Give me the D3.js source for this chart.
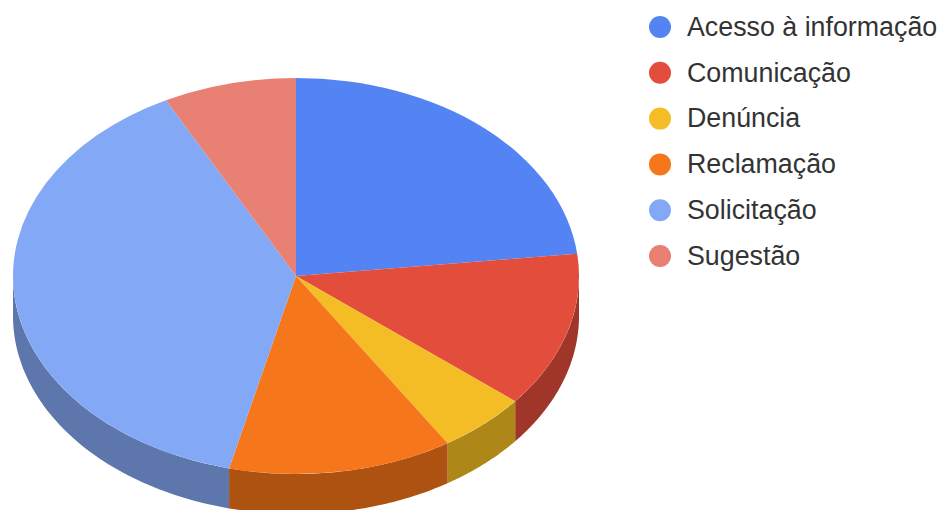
<!DOCTYPE html>
<html>
<head>
<meta charset="utf-8">
<script src="https://cdn.jsdelivr.net/npm/d3@7"></script>
<style>
  html, body { margin: 0; padding: 0; background: #fff; }
  svg { display: block; }
</style>
</head>
<body>
<div id="vis"></div>
<script>
// data
const CATEGORIES = ["Acesso à informação", "Comunicação", "Denúncia", "Reclamação", "Solicitação", "Sugestão"];
const VALUES = [23.2, 12.7, 5.1, 12.8, 38.6, 7.6];
const COLORS = ["#5484f4", "#e34d3b", "#f4bc25", "#f6761c", "#83a8f5", "#e88074"];
const SIDE_COLORS = ["#5d77ad", "#a0362a", "#ad8718", "#ad5210", "#5d77ad", "#a35a52"];

// frame and pie geometry
const FRAME_WIDTH = 950;
const FRAME_HEIGHT = 510;
const CENTER = {x: 296, y: 276};
const RADIUS_X = 283;
const RADIUS_Y = 198;
const DEPTH = 40;

const FRAME = d3.select("#vis")
    .append("svg")
        .attr("width", FRAME_WIDTH)
        .attr("height", FRAME_HEIGHT);

const PIE = d3.pie().sort(null)(VALUES);

// angle (0 at top, clockwise) to a point on the rim
const rimX = (a) => CENTER.x + RADIUS_X * Math.sin(a);
const rimY = (a) => CENTER.y - RADIUS_Y * Math.cos(a);
const LINE = d3.line();

// side walls, only the front half of the rim shows
function wallPath(d) {
    const start = Math.max(d.startAngle, Math.PI / 2);
    const end = Math.min(d.endAngle, Math.PI * 1.5);
    if (end <= start) return null;
    const steps = d3.range(0, 61).map((i) => start + (end - start) * i / 60);
    const top = steps.map((a) => [rimX(a), rimY(a)]);
    const bottom = steps.slice().reverse().map((a) => [rimX(a), rimY(a) + DEPTH]);
    return LINE(top.concat(bottom)) + "Z";
}

FRAME.append("g").selectAll("path")
    .data(PIE)
    .enter()
    .append("path")
        .attr("d", wallPath)
        .attr("fill", (d, i) => SIDE_COLORS[i]);

// top of the pie, a circle pie squashed into an ellipse
const ARC = d3.arc().innerRadius(0).outerRadius(RADIUS_X);

FRAME.append("g")
    .attr("transform", "translate(" + CENTER.x + "," + CENTER.y + ") scale(1," + (RADIUS_Y / RADIUS_X) + ")")
    .selectAll("path")
    .data(PIE)
    .enter()
    .append("path")
        .attr("d", ARC)
        .attr("fill", (d, i) => COLORS[i]);

// legend
const LEGEND_Y = d3.scalePoint().domain(CATEGORIES).range([27, 256]);

const LEGEND = FRAME.append("g").selectAll("g")
    .data(CATEGORIES)
    .enter()
    .append("g")
        .attr("transform", (d) => "translate(0," + LEGEND_Y(d) + ")");

LEGEND.append("circle")
    .attr("cx", 660)
    .attr("r", 11)
    .attr("fill", (d, i) => COLORS[i]);

LEGEND.append("text")
    .attr("x", 687)
    .attr("dy", "0.33em")
    .attr("font-family", "'Liberation Sans', Arial, sans-serif")
    .attr("font-size", "26.8px")
    .attr("fill", "#333")
    .text((d) => d);
</script>
</body>
</html>
